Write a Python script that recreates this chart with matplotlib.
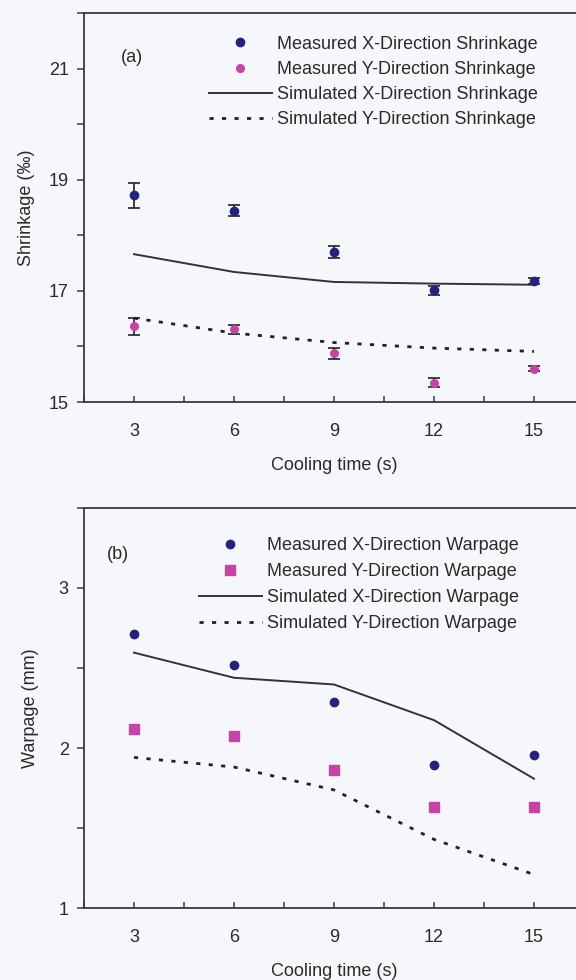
import numpy as np
import matplotlib
matplotlib.use('Agg')
import matplotlib.pyplot as plt
from matplotlib.ticker import MultipleLocator
from matplotlib.lines import Line2D

plt.rcParams['font.family'] = ['Liberation Sans', 'DejaVu Sans']

# Cooling times (s)
cooling_time = [3, 6, 9, 12, 15]

# Panel (a): shrinkage (per mille)
meas_x_shrink = [18.72, 18.44, 17.70, 17.01, 17.18]
meas_x_shrink_err = [0.22, 0.10, 0.10, 0.08, 0.05]
meas_y_shrink = [16.36, 16.31, 15.88, 15.35, 15.60]
meas_y_shrink_err = [0.15, 0.08, 0.10, 0.08, 0.04]
sim_x_shrink = [17.66, 17.34, 17.16, 17.13, 17.11]
sim_y_shrink = [16.51, 16.24, 16.07, 15.97, 15.91]

# Panel (b): warpage (mm)
meas_x_warp = [2.715, 2.517, 2.287, 1.892, 1.958]
meas_y_warp = [2.119, 2.077, 1.864, 1.634, 1.634]
sim_x_warp = [2.596, 2.439, 2.397, 2.174, 1.808]
sim_y_warp = [1.941, 1.881, 1.738, 1.429, 1.209]

navy = '#23237d'
magenta = '#c843a8'
bg = '#f6f7fa'
spine_col = '#3a3a3a'
txt_col = '#2a2a2a'
dot_style = (0, (1.5, 3))

fig = plt.figure(figsize=(5.76, 9.8), dpi=100, facecolor=bg)

# axes positions in figure fractions (left, bottom, width, height)
ax_a = fig.add_axes([84/576, 1 - 402/980, 500/576, 389/980])
ax_b = fig.add_axes([84/576, 1 - 908/980, 500/576, 400/980])


def style_axes(ax):
    ax.set_facecolor(bg)
    for s in ax.spines.values():
        s.set_color(spine_col)
        s.set_linewidth(1.3)
    ax.set_xlim(1.5, 16.5)
    ax.xaxis.set_major_locator(MultipleLocator(3))
    ax.xaxis.set_minor_locator(MultipleLocator(1.5))
    ax.tick_params(axis='x', which='both', direction='in', length=4,
                   width=1.1, color=spine_col, labelsize=13, pad=15)
    ax.tick_params(axis='y', which='both', direction='out', length=5,
                   width=1.1, color=spine_col, labelsize=13, pad=6)
    ax.tick_params(axis='both', labelcolor=txt_col)
    ax.set_xlabel('Cooling time (s)', fontsize=13, color=txt_col, labelpad=12)


def add_legend(ax, handles, anchor, spacing):
    leg = ax.legend(handles=handles, loc='upper left', bbox_to_anchor=anchor,
                    frameon=False, fontsize=13, handlelength=3.5,
                    handletextpad=0.3, labelspacing=spacing, borderaxespad=0)
    for t in leg.get_texts():
        t.set_color(txt_col)


# ---- Panel (a)
ax = ax_a
style_axes(ax)
ax.errorbar(cooling_time, meas_x_shrink, yerr=meas_x_shrink_err, fmt='o',
            color=navy, ms=6, ecolor='#222222', elinewidth=1.2, capsize=4,
            capthick=1.2, zorder=3)
ax.errorbar(cooling_time, meas_y_shrink, yerr=meas_y_shrink_err, fmt='o',
            color=magenta, ms=5.5, ecolor='#222222', elinewidth=1.2, capsize=4,
            capthick=1.2, zorder=3)
ax.plot(cooling_time, sim_x_shrink, '-', color='#333333', lw=1.4)
ax.plot(cooling_time, sim_y_shrink, linestyle=dot_style, color='#222222', lw=2.0)
ax.set_ylim(15, 22)
ax.set_yticks([15, 17, 19, 21])
ax.yaxis.set_minor_locator(MultipleLocator(1))
ax.set_ylabel('Shrinkage (‰)', fontsize=13, color=txt_col, labelpad=10)
ax.text(2.6, 21.2, '(a)', fontsize=13, color=txt_col, va='center')
handles_a = [
    Line2D([], [], marker='o', ls='none', color=navy, ms=6,
           label='Measured X-Direction Shrinkage'),
    Line2D([], [], marker='o', ls='none', color=magenta, ms=5.5,
           label='Measured Y-Direction Shrinkage'),
    Line2D([], [], ls='-', color='#333333', lw=1.4,
           label='Simulated X-Direction Shrinkage'),
    Line2D([], [], ls=dot_style, color='#222222', lw=2.0,
           label='Simulated Y-Direction Shrinkage'),
]
add_legend(ax, handles_a, (0.235, 0.96), 0.45)

# ---- Panel (b)
ax = ax_b
style_axes(ax)
ax.plot(cooling_time, meas_x_warp, 'o', color=navy, ms=6, zorder=3)
ax.plot(cooling_time, meas_y_warp, 's', color=magenta, ms=6.5, zorder=3)
ax.plot(cooling_time, sim_x_warp, '-', color='#333333', lw=1.4)
ax.plot(cooling_time, sim_y_warp, linestyle=dot_style, color='#222222', lw=2.0)
ax.set_ylim(1, 3.5)
ax.set_yticks([1, 2, 3])
ax.yaxis.set_minor_locator(MultipleLocator(0.5))
ax.set_ylabel('Warpage (mm)', fontsize=13, color=txt_col, labelpad=14)
ax.text(2.2, 3.21, '(b)', fontsize=13, color=txt_col, va='center')
handles_b = [
    Line2D([], [], marker='o', ls='none', color=navy, ms=6,
           label='Measured X-Direction Warpage'),
    Line2D([], [], marker='s', ls='none', color=magenta, ms=6.5,
           label='Measured Y-Direction Warpage'),
    Line2D([], [], ls='-', color='#333333', lw=1.4,
           label='Simulated X-Direction Warpage'),
    Line2D([], [], ls=dot_style, color='#222222', lw=2.0,
           label='Simulated Y-Direction Warpage'),
]
add_legend(ax, handles_b, (0.215, 0.945), 0.5)

fig.savefig('out.png', dpi=100, facecolor=bg)
